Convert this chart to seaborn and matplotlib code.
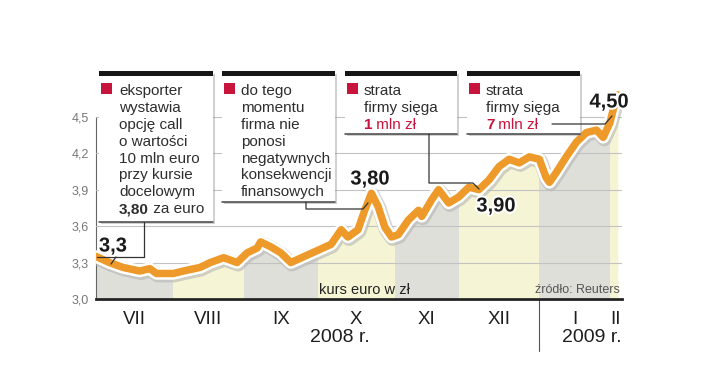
import matplotlib
matplotlib.use("Agg")
import matplotlib.pyplot as plt
import matplotlib.patheffects as pe
from matplotlib.patches import Rectangle
from matplotlib.transforms import blended_transform_factory
import numpy as np
import pandas as pd
import seaborn as sns

# kurs euro w zl, VII 2008 - II 2009 (os x: kolejne sesje)
sesja = [0, 4, 8, 13, 16, 18, 23, 26, 31, 34, 38, 42, 45, 48, 49, 52, 55, 58,
         62, 66, 70, 73, 75, 78, 80, 82, 84, 86, 88, 90, 93, 96, 97, 100, 102,
         105, 108, 111, 114, 117, 120, 123, 126, 129, 132, 134, 135, 137, 140,
         143, 146, 149, 151, 153, 154, 155.4]
kurs = [3.35, 3.30, 3.26, 3.23, 3.25, 3.21, 3.21, 3.23, 3.26, 3.30, 3.34, 3.30,
        3.38, 3.42, 3.47, 3.43, 3.38, 3.30, 3.35, 3.40, 3.45, 3.57, 3.51, 3.57,
        3.73, 3.87, 3.76, 3.59, 3.51, 3.53, 3.65, 3.73, 3.68, 3.82, 3.90, 3.79,
        3.84, 3.92, 3.90, 3.98, 4.09, 4.15, 4.12, 4.17, 4.15, 4.00, 3.96, 4.04,
        4.17, 4.29, 4.37, 4.39, 4.33, 4.45, 4.56, 4.68]

miesiace = ["VII", "VIII", "IX", "X", "XI", "XII", "I", "II"]
sesje_w_miesiacu = [23, 21, 22, 23, 19, 24, 21, 4]
lata = ["2008 r.", "2009 r."]
y_ticks = [3.0, 3.3, 3.6, 3.9, 4.2, 4.5]
y_labels = ["3,0", "3,3", "3,6", "3,9", "4,2", "4,5"]

# opisy w ramkach: kazda linia to lista (tekst, pogrubiony, czerwony)
opis_1 = [[("eksporter", False, False)], [("wystawia", False, False)],
          [("opcję call", False, False)], [("o wartości", False, False)],
          [("10 mln euro", False, False)], [("przy kursie", False, False)],
          [("docelowym", False, False)],
          [("3,80", True, False), (" za euro", False, False)]]
opis_2 = [[("do tego", False, False)], [("momentu", False, False)],
          [("firma nie", False, False)], [("ponosi", False, False)],
          [("negatywnych", False, False)], [("konsekwencji", False, False)],
          [("finansowych", False, False)]]
opis_3 = [[("strata", False, False)], [("firmy sięga", False, False)],
          [("1", True, True), (" mln zł", False, True)]]
opis_4 = [[("strata", False, False)], [("firmy sięga", False, False)],
          [("7", True, True), (" mln zł", False, True)]]
etykiety = ["3,3", "3,80", "3,90", "4,50"]

df = pd.DataFrame({"sesja": sesja, "kurs": kurs})

sns.set_theme(style="white")
plt.rcParams["font.family"] = ["Liberation Sans", "DejaVu Sans"]

ORANGE = "#EE9A2A"
GRAY_BAND = "#DFDFDA"
YELLOW_BAND = "#F5F4D4"
RED = "#C8143C"
TXT = "#2E2E2E"

fig = plt.figure(figsize=(7.2, 3.73), dpi=100)
ax = fig.add_axes([96 / 720, 74 / 373, 526 / 720, 209 / 373])
ax.set_xlim(0, 156.6)
ax.set_ylim(3.0, 4.72)

# pasy miesiecy pod krzywa
edges = np.concatenate([[0], np.cumsum(sesje_w_miesiacu)])
for i in range(len(miesiace)):
    poly = ax.fill_between(df["sesja"], 3.0, df["kurs"],
                           color=GRAY_BAND if i % 2 == 0 else YELLOW_BAND,
                           lw=0, zorder=1)
    clip = Rectangle((edges[i], 3.0), edges[i + 1] - edges[i], 2.0,
                     transform=ax.transData, visible=False)
    ax.add_patch(clip)
    poly.set_clip_path(clip)

sns.lineplot(data=df, x="sesja", y="kurs", ax=ax, color=ORANGE, lw=5.4,
             zorder=4)
line = ax.lines[-1]
line.set_solid_capstyle("round")
line.set_solid_joinstyle("round")
line.set_path_effects([
    pe.Stroke(linewidth=10.5, foreground="#b5b5b5", offset=(0.8, -1.2), alpha=0.6),
    pe.Stroke(linewidth=9, foreground="white"),
    pe.Normal()])

ax.set_axisbelow(False)
ax.grid(axis="y", color="#c2c2c2", lw=0.8, zorder=2)
ax.grid(axis="x", visible=False)
ax.set_yticks(y_ticks)
ax.set_yticklabels(y_labels, fontsize=9, color="#777777")
ax.tick_params(axis="y", length=0, pad=5)
ax.set_xticks([])
ax.set_xlabel("")
ax.set_ylabel("")
for s in ["top", "right"]:
    ax.spines[s].set_visible(False)
ax.spines["left"].set_bounds(3.0, 4.5)
ax.spines["left"].set_color("#666666")
ax.spines["left"].set_linewidth(0.8)
ax.spines["bottom"].set_color("#222222")
ax.spines["bottom"].set_linewidth(2.0)

trans = blended_transform_factory(ax.transData, ax.transAxes)
for i, m in enumerate(miesiace):
    xc = (edges[i] + min(edges[i + 1], 156.6)) / 2
    ax.text(xc, -0.10, m, transform=trans, ha="center", va="center",
            fontsize=13.5, color="#1e1e1e")
ax.text(72.5, -0.185, lata[0], transform=trans, ha="center", va="center",
        fontsize=14, color="#1e1e1e")
ax.text(156.6, -0.185, lata[1], transform=trans, ha="right", va="center",
        fontsize=14, color="#1e1e1e")
ax.plot([edges[6], edges[6]], [0, -0.25], transform=trans, color="#555555",
        lw=0.8, clip_on=False)

ax.text(80, 0.045, "kurs euro w zł", transform=trans, ha="center",
        va="center", fontsize=10.5, color="#222222", zorder=5)
ax.text(156, 0.045, "źródło: Reuters", transform=trans, ha="right",
        va="center", fontsize=9, color="#555555", zorder=5)

# warstwa opisow w pikselach
ov = fig.add_axes([0, 0, 1, 1], zorder=5)
ov.set_xlim(0, 720)
ov.set_ylim(373, 0)
ov.axis("off")
ov.patch.set_alpha(0)


def ramka(x0, x1, bottom, tx, opis):
    box = Rectangle((x0, 72), x1 - x0, bottom - 72, facecolor="white",
                    edgecolor="none", zorder=1)
    box.set_path_effects([pe.SimplePatchShadow(offset=(1.2, -1.2),
                                               shadow_rgbFace="#9a9a9a",
                                               alpha=0.45), pe.Normal()])
    ov.add_patch(box)
    ov.add_patch(Rectangle((x0, 71), x1 - x0, 4.5, facecolor="#161616",
                           edgecolor="none", zorder=2))
    ov.plot([x0, x1], [bottom, bottom], color="#444444", lw=1.1, zorder=2)
    ov.add_patch(Rectangle((x0 + 2, 83), 11, 11, facecolor=RED,
                           edgecolor="none", zorder=2))
    for k, parts in enumerate(opis):
        prev = None
        for txt, bold, red in parts:
            kw = dict(fontsize=11, color=RED if red else TXT,
                      fontweight="bold" if bold else "normal", zorder=3)
            if prev is None:
                prev = ov.text(tx, 95 + 16.9 * k, txt, ha="left",
                               va="baseline", **kw)
            else:
                prev = ov.annotate(txt, xy=(1, 0), xycoords=prev, ha="left",
                                   va="bottom", **kw)


ramka(99, 213, 222, 119, opis_1)
ramka(222, 335, 202, 241, opis_2)
ramka(345, 457, 134, 364, opis_3)
ramka(467, 580, 134, 486, opis_4)

lc = dict(color="#333333", lw=0.9, zorder=4)
ov.plot([144, 144, 97], [222, 257, 257], **lc)
ov.plot([116, 111], [257, 264], **lc)
ov.plot([306, 306, 363, 368], [202, 209, 209, 203], **lc)
ov.plot([429, 429, 473, 479], [134, 183, 183, 189], **lc)
ov.plot([552, 605, 612], [124, 124, 116], **lc)

halo = [pe.withStroke(linewidth=3, foreground="white")]
for lab, (x, y) in zip(etykiety, [(113, 246), (370, 179), (496, 206), (609, 102)]):
    ov.text(x, y, lab, ha="center", va="center", fontsize=14.5,
            fontweight="bold", color="#1a1a1a", path_effects=halo, zorder=5)

fig.savefig("out.png", dpi=100)
